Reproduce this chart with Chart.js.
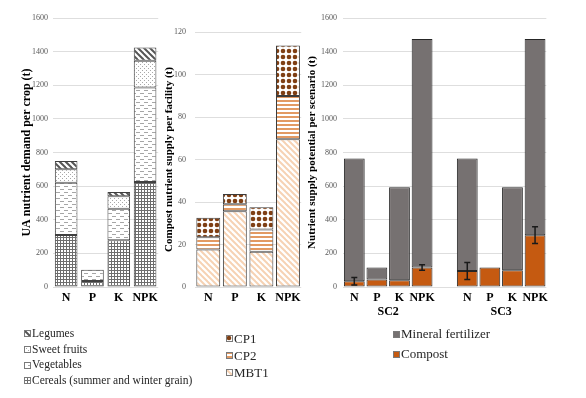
<!DOCTYPE html>
<html>
<head>
<meta charset="utf-8">
<script src="https://cdn.jsdelivr.net/npm/chart.js@4.4.0/dist/chart.umd.min.js"></script>
<style>
  body { margin: 0; background: #fff; width: 586px; height: 398px; position: relative; overflow: hidden; font-family: "Liberation Serif", serif; }
  canvas.chart { position: absolute; top: 0; }
  .legend { position: absolute; color: #262626; }
  .legend .row { display: flex; align-items: center; white-space: nowrap; }
  .legend canvas { margin-right: 1px; }
</style>
</head>
<body>
<canvas id="demandChart" class="chart" width="162" height="305" style="left:0"></canvas>
<canvas id="supplyChart" class="chart" width="145" height="305" style="left:160px"></canvas>
<canvas id="scenarioChart" class="chart" width="252" height="320" style="left:300px"></canvas>
<div id="legend1" class="legend" style="left:24px;top:326px;font-size:11.5px;line-height:15.7px"></div>
<div id="legend2" class="legend" style="left:226px;top:330px;font-size:13px;line-height:17px"></div>
<div id="legend3" class="legend" style="left:393px;top:324px;font-size:13px;line-height:20px"></div>
<script>
// Données
const nutrients = ['N', 'P', 'K', 'NPK'];

// Besoin en nutriments par culture (t)
const cereals = [310, 35, 278, 625];
const vegetables = [310, 68, 188, 562];
const sweetFruits = [80, 0, 74, 158];
const legumes = [50, 0, 25, 80];

// Apport de compost par installation (t)
const mbt1 = [17.7, 35.6, 16.6, 69.5];
const cp2 = [5.7, 3.4, 10.5, 20.4];
const cp1 = [9.2, 4.8, 10.4, 23.8];

// Potentiel par scénario (t)
const scenarioLabels = ['N', 'P', 'K', 'NPK', '', 'N', 'P', 'K', 'NPK'];
const scenarioGroups = ['SC2', 'SC3'];
const compost = [34, 44, 40, 116, null, 95, 116, 100, 308];
const mineral = [731, 72, 554, 1359, null, 670, 0, 494, 1167];
const compostErr = [22, 0, 0, 17, null, 50, 0, 0, 50];

const serif = '"Liberation Serif", "Times New Roman", serif';

/**
 * Création d'une texture (motif) à partir d'une petite tuile
 */
function makeTile(w, h, draw) {
    const c = document.createElement('canvas');
    c.width = w;
    c.height = h;
    const ctx = c.getContext('2d');
    ctx.fillStyle = '#fff';
    ctx.fillRect(0, 0, w, h);
    draw(ctx, w, h);
    return c;
}

function diagonal(color, size, width) {
    return makeTile(size, size, function(ctx, s) {
        ctx.strokeStyle = color;
        ctx.lineWidth = width;
        for (let o = -s; o <= s; o += s) {
            ctx.beginPath();
            ctx.moveTo(o - 1, -1);
            ctx.lineTo(o + s + 1, s + 1);
            ctx.stroke();
        }
    });
}

const tiles = {
    cereals: makeTile(3, 3, function(ctx) {
        ctx.fillStyle = '#6e6e6e';
        ctx.fillRect(0, 0, 3, 1);
        ctx.fillRect(0, 0, 1, 3);
    }),
    vegetables: makeTile(8, 6, function(ctx) {
        ctx.fillStyle = '#a6a6a6';
        ctx.fillRect(0, 0, 4, 1);
        ctx.fillRect(4, 3, 4, 1);
    }),
    sweetFruits: makeTile(4, 4, function(ctx) {
        ctx.fillStyle = '#a8a8a8';
        ctx.fillRect(0, 0, 1, 1);
        ctx.fillRect(2, 2, 1, 1);
    }),
    legumes: diagonal('#555', 6, 2),
    mbt1: diagonal('#f6d2b4', 6, 2),
    cp2: makeTile(4, 4, function(ctx) {
        ctx.fillStyle = '#e29a63';
        ctx.fillRect(0, 0, 4, 2);
    }),
    cp1: makeTile(6, 6, function(ctx) {
        ctx.fillStyle = '#7f3f14';
        ctx.beginPath();
        ctx.arc(3, 3, 2.3, 0, Math.PI * 2);
        ctx.fill();
    })
};

function pattern(name) {
    return tiles[name].getContext('2d').createPattern(tiles[name], 'repeat');
}

/**
 * Options communes des axes
 */
function yAxis(max, step, width, title, titleSize, titlePad, tickPad) {
    return {
        stacked: true,
        min: 0,
        max: max,
        ticks: {
            stepSize: step,
            padding: tickPad,
            color: '#595959',
            font: { family: serif, size: 8 },
            callback: function(v) { return String(v); }
        },
        grid: { color: '#dedede', drawTicks: false },
        border: { display: false },
        title: {
            display: true,
            text: title,
            color: '#000',
            font: { family: serif, size: titleSize, weight: 'bold' },
            padding: { top: titlePad, bottom: 0 }
        },
        afterFit: function(scale) { scale.width = width; }
    };
}

function xAxis(height) {
    return {
        stacked: true,
        grid: { display: false, drawTicks: false },
        border: { display: false },
        ticks: { color: '#000', padding: 4, maxRotation: 0, autoSkip: false, font: { family: serif, size: 12, weight: 'bold' } },
        afterFit: function(scale) { scale.height = height; }
    };
}

const baseOptions = {
    responsive: false,
    animation: false,
    devicePixelRatio: 1,
    plugins: { legend: { display: false }, tooltip: { enabled: false } }
};

// Graphique 1 : besoins par culture
const demandSets = [
    { label: 'Cereals (summer and winter grain)', data: cereals, tile: 'cereals' },
    { label: 'Vegetables', data: vegetables, tile: 'vegetables' },
    { label: 'Sweet fruits', data: sweetFruits, tile: 'sweetFruits' },
    { label: 'Legumes', data: legumes, tile: 'legumes' }
];

new Chart(document.getElementById('demandChart'), {
    type: 'bar',
    data: {
        labels: nutrients,
        datasets: demandSets.map(d => ({
            label: d.label,
            data: d.data,
            backgroundColor: pattern(d.tile),
            borderColor: '#404040',
            borderWidth: 1,
            borderSkipped: false,
            categoryPercentage: 1,
            barPercentage: 0.86
        }))
    },
    options: Object.assign({}, baseOptions, {
        layout: { padding: { top: 18, right: 2, left: 0, bottom: 0 } },
        scales: {
            x: xAxis(18),
            y: yAxis(1600, 200, 53, 'UA nutrient demand per crop (t)', 12, 20, 5)
        }
    })
});

// Graphique 2 : apport de compost par installation
const supplySets = [
    { label: 'MBT1', data: mbt1, tile: 'mbt1' },
    { label: 'CP2', data: cp2, tile: 'cp2' },
    { label: 'CP1', data: cp1, tile: 'cp1' }
];

new Chart(document.getElementById('supplyChart'), {
    type: 'bar',
    data: {
        labels: nutrients,
        datasets: supplySets.map(d => ({
            label: d.label,
            data: d.data,
            backgroundColor: pattern(d.tile),
            borderColor: '#3b3b3b',
            borderWidth: 1,
            borderSkipped: false,
            categoryPercentage: 1,
            barPercentage: 0.9
        }))
    },
    options: Object.assign({}, baseOptions, {
        layout: { padding: { top: 32, right: 3, left: 0, bottom: 0 } },
        scales: {
            x: xAxis(18),
            y: yAxis(120, 20, 35, 'Compost nutrient supply per facility (t)', 11, 3, 9)
        }
    })
});

// Graphique 3 : potentiel par scénario, avec barres d'erreur et noms des scénarios
const errorBars = {
    id: 'errorBars',
    afterDatasetsDraw(chart) {
        const meta = chart.getDatasetMeta(0);
        const y = chart.scales.y;
        const ctx = chart.ctx;
        ctx.save();
        ctx.strokeStyle = '#1a1a1a';
        ctx.lineWidth = 1.5;
        meta.data.forEach(function(bar, i) {
            const e = compostErr[i];
            if (!e) return;
            const top = y.getPixelForValue(compost[i] + e);
            const bot = y.getPixelForValue(compost[i] - e);
            ctx.beginPath();
            ctx.moveTo(bar.x, top); ctx.lineTo(bar.x, bot);
            ctx.moveTo(bar.x - 3, top); ctx.lineTo(bar.x + 3, top);
            ctx.moveTo(bar.x - 3, bot); ctx.lineTo(bar.x + 3, bot);
            ctx.stroke();
        });
        ctx.restore();
    }
};

const groupLabels = {
    id: 'groupLabels',
    afterDraw(chart) {
        const x = chart.scales.x;
        const ctx = chart.ctx;
        ctx.save();
        ctx.fillStyle = '#000';
        ctx.font = 'bold 12px ' + serif;
        ctx.textAlign = 'center';
        ctx.textBaseline = 'middle';
        scenarioGroups.forEach(function(name, g) {
            const start = g * 5;
            const cx = (x.getPixelForValue(start + 1) + x.getPixelForValue(start + 2)) / 2;
            ctx.fillText(name, cx, chart.chartArea.bottom + 25);
        });
        ctx.restore();
    }
};

const scenarioSets = [
    { label: 'Compost', data: compost, color: '#c55a11' },
    { label: 'Mineral fertilizer', data: mineral, color: '#767171' }
];

new Chart(document.getElementById('scenarioChart'), {
    type: 'bar',
    data: {
        labels: scenarioLabels,
        datasets: scenarioSets.map(d => ({
            label: d.label,
            data: d.data,
            backgroundColor: d.color,
            borderColor: '#262626',
            borderWidth: 1,
            borderSkipped: false,
            categoryPercentage: 1,
            barPercentage: 0.92
        }))
    },
    options: Object.assign({}, baseOptions, {
        layout: { padding: { top: 18, right: 5, left: 0, bottom: 0 } },
        scales: {
            x: xAxis(33),
            y: yAxis(1600, 200, 43, 'Nutrient supply potential per scenario (t)', 11, 6, 6)
        }
    }),
    plugins: [errorBars, groupLabels]
});

/**
 * Légendes HTML (ordre inverse de l'empilement)
 */
function buildLegend(id, items) {
    const box = document.getElementById(id);
    items.forEach(function(item) {
        const row = document.createElement('div');
        row.className = 'row';
        const sw = document.createElement('canvas');
        sw.width = 7;
        sw.height = 7;
        const sctx = sw.getContext('2d');
        sctx.fillStyle = item.tile ? pattern(item.tile) : item.color;
        sctx.fillRect(0, 0, 7, 7);
        sctx.strokeStyle = '#7a7a7a';
        sctx.lineWidth = 1;
        sctx.strokeRect(0.5, 0.5, 6, 6);
        row.appendChild(sw);
        const span = document.createElement('span');
        span.textContent = item.label;
        row.appendChild(span);
        box.appendChild(row);
    });
}

buildLegend('legend1', demandSets.slice().reverse());
buildLegend('legend2', supplySets.slice().reverse());
buildLegend('legend3', scenarioSets.slice().reverse());
</script>
</body>
</html>
